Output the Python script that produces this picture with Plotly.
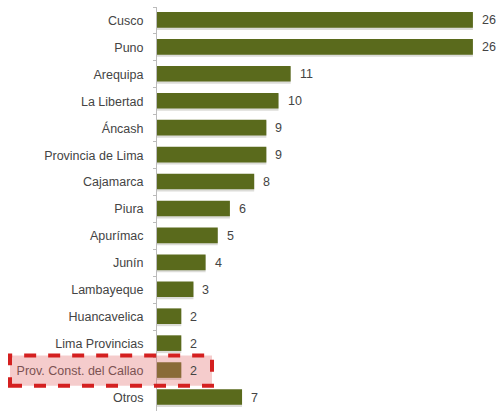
import plotly.graph_objects as go

categories = ["Cusco", "Puno", "Arequipa", "La Libertad", "Áncash", "Provincia de Lima",
              "Cajamarca", "Piura", "Apurímac", "Junín", "Lambayeque", "Huancavelica",
              "Lima Provincias", "Prov. Const. del Callao", "Otros"]
values = [26, 26, 11, 10, 9, 9, 8, 6, 5, 4, 3, 2, 2, 2, 7]
highlight = "Prov. Const. del Callao"

bar_color = "#5a6a1c"
colors = [bar_color for _ in categories]
FONT = "Liberation Sans, Arial, sans-serif"

fig = go.Figure()
# soft shadow
fig.add_trace(go.Bar(
    x=values, y=categories, orientation="h",
    marker=dict(color="rgba(60,60,40,0.18)", line=dict(width=0)),
    width=0.62, offset=-0.27, hoverinfo="skip", showlegend=False,
))
fig.add_trace(go.Bar(
    x=values, y=categories, orientation="h",
    marker=dict(color=colors, line=dict(width=0)),
    width=0.58, offset=-0.31,
    showlegend=False,
))

for c, v in zip(categories, values):
    fig.add_annotation(x=v, y=c, xref="x", yref="y", text=str(v), showarrow=False,
                       xanchor="left", yanchor="middle", xshift=7,
                       font=dict(family=FONT, size=12.5, color="#444444"))

n = len(categories)
hi = categories.index(highlight)
yc = 1 - (hi + 0.5) / n
half = 0.56 / n
L, R = 157, 0
plot_w = 499 - L - R
fig.add_shape(type="rect", xref="paper", yref="paper",
              x0=(10 - L) / plot_w, x1=(212 - L) / plot_w, y0=yc - half, y1=yc + half,
              fillcolor="rgba(225,110,110,0.35)",
              line=dict(color="#d42020", width=4, dash="dash"),
              layer="above")

fig.update_layout(
    width=499, height=411,
    margin=dict(l=L, r=R, t=7, b=0, autoexpand=False),
    paper_bgcolor="white", plot_bgcolor="white",
    barmode="overlay",
    font=dict(family=FONT, size=12.5, color="#444444"),
    xaxis=dict(range=[0, plot_w / 12.15], visible=False, fixedrange=True, automargin=False),
    yaxis=dict(categoryorder="array", categoryarray=categories, autorange="reversed",
               automargin=False,
               showline=True, linecolor="#bbbbbb", linewidth=1,
               ticks="outside", ticklen=3, tickcolor="#bbbbbb", tickson="boundaries",
               ticklabelstandoff=10,
               showgrid=False, tickfont=dict(size=12.5, color="#444444")),
)

fig.write_html("out.html", config={"displayModeBar": False},
               post_script="document.body.style.margin='0';document.body.style.overflow='hidden';")
